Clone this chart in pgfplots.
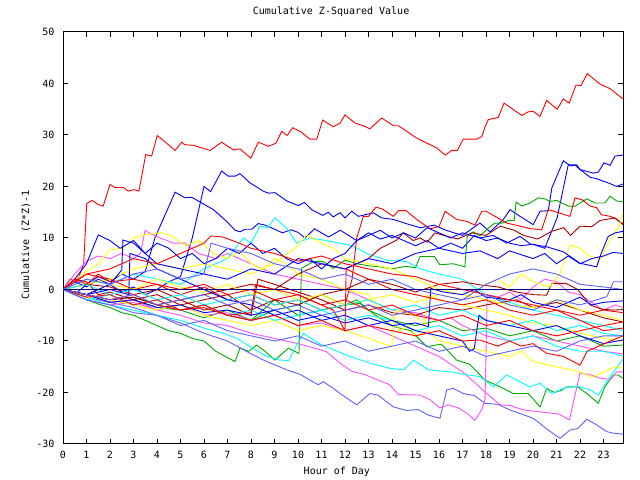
\documentclass[border=0pt]{standalone}
\usepackage{fontspec}
\setmainfont{DejaVu Sans Mono}
\usepackage{pgfplots}
\pgfplotsset{compat=1.18}
\definecolor{gpred}{RGB}{255,0,0}
\definecolor{gpblue}{RGB}{0,0,255}
\definecolor{gpgreen}{RGB}{0,170,0}
\definecolor{gpyellow}{RGB}{255,255,0}
\definecolor{gpcyan}{RGB}{0,255,255}
\definecolor{gpmag}{RGB}{255,80,255}
\definecolor{gpdred}{RGB}{170,0,0}
\definecolor{gpslate}{RGB}{96,96,255}
\definecolor{gpzero}{RGB}{0,0,128}
\begin{document}
\fontsize{10bp}{12bp}\selectfont
\begin{tikzpicture}[x=1bp,y=1bp]
\path[use as bounding box] (0,0) rectangle (640,480);
\begin{axis}[
  at={(63bp,36bp)}, anchor=south west,
  width=560bp, height=412bp, scale only axis,
  xmin=0, xmax=23.83, ymin=-30, ymax=50,
  xtick={0,1,...,23}, ytick={-30,-20,...,50},
  tick align=inside, major tick length=5bp,
  axis line style={line width=1bp},
  every tick/.style={black,line width=1bp},
  /pgf/number format/assume math mode=true,
  ticklabel style={font=\fontsize{10bp}{12bp}\selectfont},
  xticklabel style={yshift=-3.5bp},
  yticklabel style={xshift=-5bp},
  title={Cumulative Z-Squared Value},
  title style={at={(axis description cs:0.4786,1.029)},anchor=base,font=\fontsize{10bp}{12bp}\selectfont},
  xlabel={Hour of Day},
  xlabel style={at={(axis description cs:0.489,-0.075)},anchor=base,font=\fontsize{10bp}{12bp}\selectfont},
  ylabel={Cumulative (Z*Z)-1},
  ylabel style={at={(axis description cs:-0.0607,0.483)},anchor=base,rotate=0,font=\fontsize{10bp}{12bp}\selectfont},
  every axis plot/.append style={line width=0.9bp, mark=none},
  clip=true,
]
% top red
\addplot[gpred] coordinates {(0,0) (0.3,2) (0.6,1.5) (0.88,5) (1.01,16.7) (1.23,17.3) (1.50,16.5) (1.71,16.2) (2.00,20.4) (2.21,19.8) (2.57,19.8) (2.78,19.1) (3.02,19.4) (3.23,19.1) (3.52,26.2) (3.77,25.9) (4.01,29.9) (4.41,28.4) (4.77,27.0) (5.05,28.6) (5.19,28.1) (5.54,28.0) (5.83,27.6) (6.26,27.0) (6.75,28.6) (7.25,27.1) (7.53,27.3) (7.99,25.5) (8.31,28.6) (8.74,27.8) (9.06,28.4) (9.31,30.7) (9.54,29.9) (9.77,31.4) (10.09,30.7) (10.51,29.2) (10.80,29.2) (11.05,32.9) (11.50,31.6) (11.79,32.3) (12.00,33.9) (12.43,32.3) (12.78,31.8) (13.06,31.2) (13.56,33.3) (14.06,31.8) (14.27,31.8) (15.05,29.4) (15.90,27.5) (16.26,26.1) (16.54,27.0) (16.78,27.0) (17.03,29.2) (17.60,29.2) (17.82,29.7) (17.96,31.6) (18.10,33.0) (18.52,33.4) (18.77,36.2) (19.52,33.8) (19.80,34.5) (20.01,34.6) (20.30,33.6) (20.58,36.7) (21.03,35.0) (21.29,37.0) (21.54,36.2) (21.83,39.7) (22.04,39.6) (22.31,41.9) (22.85,39.9) (23.28,39.0) (23.83,37.0)};
% blue A
\addplot[gpblue] coordinates {(0,0) (0.5,1.5) (1,0.5) (1.5,2) (2,1) (2.5,-0.5) (3,0.5) (3.5,-1) (4,0) (4.5,1.5) (5,2.5) (5.5,10) (6.0,20.0) (6.28,19.0) (6.75,23.0) (7.03,22.0) (7.32,22.0) (7.53,22.5) (7.96,20.7) (8.52,19.1) (8.74,18.7) (9.02,18.8) (9.52,17.2) (10.01,16.3) (10.27,16.9) (10.58,15.5) (11.05,14.4) (11.29,15.0) (11.5,14.1) (11.79,14.9) (12.0,13.9) (12.29,15.2) (12.57,14.2) (13.2,14.9) (13.56,13.9) (14.06,13.6) (14.6,12.8) (15.2,12) (15.8,12.5) (16.3,11.5) (17,10.5) (17.74,12.9) (18.17,11.2) (18.74,13.6) (19.02,15.5) (19.45,14.2) (20.01,12.6) (20.3,15.2) (20.65,15.3) (20.8,19.7) (21.29,25.0) (21.6,24.0) (21.86,24.2) (22.0,23.3) (22.57,22.6) (22.78,22.8) (23.02,24.6) (23.28,24.1) (23.49,25.9) (23.83,26.1)};
% blue B
\addplot[gpblue] coordinates {(0,0) (0.5,-1) (1,1) (1.5,2.5) (2,1.5) (2.5,3) (3,2) (3.5,3.5) (3.91,10) (4.77,18.9) (5.19,17.8) (5.48,17.9) (5.83,17.0) (6.4,15.5) (6.97,13.2) (7.32,11.5) (7.53,11.2) (7.75,11.7) (8.03,11.7) (8.31,12.8) (8.6,12.5) (8.96,11.8) (9.34,11.0) (9.7,11.6) (10.0,11.1) (10.3,10) (10.7,11.8) (11.3,10.2) (11.8,11.5) (12.5,9.5) (13,11) (13.5,9.8) (14,10.5) (14.5,9.5) (15,8.5) (15.5,9.5) (16,8) (16.5,9) (17,8) (17.5,10.5) (18,9.5) (18.5,10) (19,9) (19.5,8.5) (20,8.8) (20.5,8) (21.03,14.0) (21.5,24.2) (21.79,24.2) (22.0,23.3) (22.43,21.8) (22.71,21.5) (23.2,20.7) (23.56,20.0) (23.83,20.5)};
% green G1
\addplot[gpgreen] coordinates {(0,0) (0.5,-1) (1,-2) (1.5,-2.8) (2,-3.5) (2.5,-4.5) (3,-5) (3.5,-6) (4,-7) (4.5,-8) (5,-8.5) (5.5,-9.5) (6,-10) (6.5,-12) (7.32,-14.0) (7.53,-11.4) (7.9,-12) (8.24,-10.8) (8.6,-12) (9.02,-13.7) (9.59,-11.4) (10.04,-12.4) (10.15,4.1) (10.65,5.4) (11.08,5.4) (11.5,4.1) (12.0,5.7) (12.5,5) (13,4.6) (13.49,4.4) (14,4) (14.6,4.5) (15.0,4.2) (15.19,6.4) (15.8,6.4) (16.04,4.8) (16.6,5) (17.1,4.4) (17.2,10.3) (17.46,11.2) (17.74,10.4) (18.1,11.9) (18.38,12.9) (18.7,12.9) (18.95,13.4) (19.2,13.4) (19.28,17.0) (19.52,16.2) (19.87,16.8) (20.23,17.8) (20.5,17.6) (20.72,17.1) (21.01,17.3) (21.5,16.2) (21.8,16.2) (22.0,16.8) (22.29,17.6) (22.64,16.8) (23.06,16.8) (23.28,18.1) (23.56,17.2) (23.83,17.0)};
% green G2
\addplot[gpgreen] coordinates {(0,0) (1,-1) (2,-2.5) (3,-2) (4,-3.5) (5,-4) (6,-5.5) (7,-4) (8,-6) (9,-2) (10,-5) (11,-4) (12,-3) (12.64,-2.7) (13.3,-5) (14.06,-7.2) (14.8,-8) (15.48,-11.1) (16.1,-10.6) (16.75,-13.7) (17.3,-14.5) (17.96,-17.6) (18.6,-18.9) (19.16,-20.2) (19.8,-20.2) (20.3,-22.8) (20.58,-19.2) (20.9,-20) (21.2,-19.6) (21.43,-18.9) (21.9,-18.9) (22.29,-20.2) (22.78,-22.1) (23.06,-18.9) (23.42,-16.6) (23.6,-16.6) (23.83,-17.2)};
% green G3
\addplot[gpgreen] coordinates {(0,0) (1,-1) (2,-2) (3,-1.5) (4,-3) (5,-4) (6,-3) (7,-5) (8,-6) (9,-4) (10,-3) (11,-1) (12,-3) (12.5,-2) (13,-4) (14,-6) (15,-7) (16,-6) (17,-8) (18,-7.5) (19,-9) (20,-8) (20.5,-9) (21,-10) (22,-9) (23,-11) (23.83,-10.8)};
% slate bottom
\addplot[gpslate] coordinates {(0,0) (1,-1.5) (2,-2.5) (3,-3.5) (4,-5) (5,-6.5) (6,-8.5) (7,-10) (8,-12.5) (8.67,-14.0) (9.52,-15.6) (10.1,-16.5) (10.51,-17.6) (10.86,-18.5) (11.08,-17.9) (11.5,-19.2) (11.79,-20.2) (12.5,-22.4) (13.06,-20.2) (13.4,-20.5) (14.06,-22.8) (14.63,-23.5) (15.1,-23.3) (15.55,-24.4) (16.04,-25.0) (16.33,-19.5) (16.61,-19.2) (17.03,-20.2) (17.5,-20.6) (17.96,-22.1) (18.5,-22.3) (19.02,-23.4) (20.01,-25.0) (20.65,-27.3) (21.15,-28.9) (21.57,-27.3) (21.9,-27.0) (22.29,-25.2) (22.71,-26.3) (23.14,-27.6) (23.42,-27.9) (23.83,-28.1)};
% magenta bottom M2
\addplot[gpmag] coordinates {(0,0) (1,-1) (2,-2.5) (3,-2) (4,-4) (5,-5) (6,-6.5) (7,-7) (8,-8.5) (9,-9.5) (10,-10.5) (10.72,-11.4) (11.22,-12.1) (11.79,-14.3) (12.29,-15.9) (12.78,-16.4) (13.2,-17.2) (13.91,-18.5) (14.27,-20.4) (15.19,-20.5) (15.62,-21.4) (16.04,-23.0) (16.4,-22.4) (16.82,-23.0) (17.18,-24.0) (17.53,-25.4) (17.82,-23.3) (17.96,-21.4) (18.05,-1) (18.5,-1.5) (19,-0.5) (19.5,-2) (20,0.5) (20.5,2) (21,1.5) (21.5,-0.5) (22,-1) (22.5,-2.5) (23,-4) (23.5,-3) (23.83,-3.5)};
% magenta M3
\addplot[gpmag] coordinates {(0,0) (1,-2) (2,-3) (3,-2.5) (4,-4) (5,-3) (6,-5) (7,-4.5) (8,-6) (9,-5) (10,-7) (11,-6.5) (12,-8) (13,-7) (14,-9) (15,-11) (16,-13) (17,-16) (17.5,-18) (18.03,-20.2) (18.6,-22.4) (19.0,-22.5) (19.59,-23.4) (20.58,-23.9) (21.1,-24.2) (21.55,-25.3) (22.0,-16.2) (22.4,-16.5) (22.85,-17.2) (23.3,-17.5) (23.56,-16.0) (23.83,-16)};
% magenta M1
\addplot[gpmag] coordinates {(0,0) (0.5,3) (1,5.5) (1.5,6.5) (2,6) (2.5,7) (3,6) (3.3,7) (3.49,11.5) (3.7,10.9) (3.99,10.3) (4.69,9.0) (5.2,9.0) (5.76,7.0) (6.5,6) (7,7) (7.5,6) (8,5) (9,3) (10,2) (11,1) (12,0) (13,-2) (14,-4) (15,-4.5) (16,-6) (16.5,-5.5) (17,-7) (18,-9) (19,-10) (20,-9) (21,-10) (22,-11) (23,-12) (23.83,-12.5)};
% cyan low
\addplot[gpcyan] coordinates {(0,0) (1,-1.5) (2,-3) (3,-4) (4,-5) (5,-6) (6,-7.5) (6.82,-8.5) (7.4,-9.5) (7.96,-11.1) (8.67,-13.0) (9.23,-13.7) (9.6,-13.8) (9.87,-11.4) (10.23,-8.5) (10.86,-10.4) (11.4,-11.5) (12.21,-13.0) (13.06,-14.3) (13.91,-15.3) (14.5,-15.6) (14.91,-13.7) (15.55,-15.6) (16.5,-16.0) (17.25,-16.6) (17.74,-16.9) (18.31,-18.9) (18.88,-16.6) (19.87,-18.9) (20.3,-18.2) (20.8,-20.2) (21.4,-19.0) (21.9,-18.8) (22.43,-19.5) (22.78,-20.5) (23.14,-17.9) (23.49,-15.6) (23.83,-13.5)};
% cyan upper
\addplot[gpcyan] coordinates {(0,0) (1,2) (2,1) (3,3) (4,2) (5,1) (6,4) (7,6) (7.67,10) (8,9) (8.38,12.3) (8.7,12) (9.02,13.9) (9.52,11.9) (9.94,9.0) (10.5,10) (11.08,9.6) (11.79,9.0) (12.3,8.5) (12.92,7.0) (13.77,5.7) (14.63,5.4) (15.2,4) (16,3) (17,2) (18,-1) (19,-2.5) (20,-4) (21,-5) (22,-6) (23,-7) (23.83,-8)};
% red mid
\addplot[gpred] coordinates {(0,0) (1,3) (2,2) (3,0) (4,1) (5,-1) (6,0.5) (7,-2) (8,-1) (9,-3) (10,-2) (11,-4) (12,-3) (12.3,2) (12.5,10) (12.78,14.2) (13.0,14.2) (13.32,16.0) (13.6,15.6) (14.06,14.2) (14.27,15.3) (14.6,15.3) (15.05,13.6) (15.62,11.8) (16.0,12.2) (16.26,15.2) (16.75,13.6) (17.2,13.2) (17.53,12.5) (17.82,15.2) (18.0,15.2) (18.38,14.2) (18.88,12.9) (19.45,12.3) (19.9,11.8) (20.37,11.6) (20.65,15.5) (21.1,14.9) (21.57,14.2) (21.79,17.8) (22.1,17.4) (22.43,16.2) (22.7,15.9) (22.92,14.5) (23.3,14.2) (23.56,13.6) (23.83,12.8)};
% dark red DR1
\addplot[gpdred] coordinates {(0,0) (1,1) (2,0.5) (3,-1) (4,0) (5,-2) (6,-1) (7,0) (8,1) (9,0) (10,3) (11,5) (12,4) (13,6) (13.5,8) (14.2,9.6) (14.48,11.0) (14.9,9.5) (15.19,10) (15.5,9.2) (15.83,11.0) (16.2,10.5) (16.8,9.8) (17.4,11) (18,10.5) (18.6,12.3) (19.2,11.5) (19.6,10.5) (20.2,9.8) (20.8,11.3) (21.3,12) (21.6,10.5) (22.0,12.3) (22.5,12.2) (22.85,13.4) (23.49,13.9) (23.83,12.6)};
% dark red DR2
\addplot[gpdred] coordinates {(0,0) (0.5,2) (1,1.5) (1.5,-1) (2,-0.5) (3,-2) (4,-1) (5,-3) (6,-2) (7,-1) (8,-4) (9,-2) (10,-3) (11,-1) (12,0) (13,2) (14,1) (15,-0.5) (16,1) (17,1.5) (17.74,0.9) (18.5,0.5) (19.3,-0.5) (20,-1) (20.58,-1.1) (20.8,1.2) (21.4,1.2) (21.9,0) (22.43,-3.0) (22.9,-3.8) (23.42,-4.0) (23.83,-3.9)};
% dark red DR3
\addplot[gpdred] coordinates {(0,0) (1,-1) (2,-2) (3,-1.5) (4,-3) (5,-2) (6,-4) (7,-3) (8,-5) (8.3,2) (9,1) (10,-0.5) (11,-2) (12,-4) (13,-3) (14,-4.5) (15,-5) (16,-3.5) (17,-4) (18,-3) (19.3,-2.0) (20,-3.5) (21,-2.5) (22,-4) (23,-5.5) (23.83,-6.3)};
% yellow Y1
\addplot[gpyellow] coordinates {(0,0) (0.5,2) (1,3.5) (1.5,5) (2,7.7) (2.57,8.0) (3,10) (3.42,10.6) (4.13,11.0) (4.6,10.5) (5.2,8.5) (5.8,9.5) (6.4,7) (7,6) (7.5,7.5) (8,5) (8.5,4) (9,6) (9.5,5) (10,3) (11,2) (12,0) (13,-1) (13.5,-4) (14,-5) (14.3,-8) (14.7,-7) (15,-9) (15.5,-8) (16,-10) (17,-11) (18,-12) (19,-13) (19.5,-12) (20,-14) (21,-15) (22,-16) (22.5,-17) (23,-16) (23.5,-15) (23.83,-15.3)};
% yellow Y2
\addplot[gpyellow] coordinates {(0,0) (1,-1) (2,1) (3,0) (4,2) (5,0.5) (6,-0.5) (7,1) (8,-1) (9,0) (10,-2) (11,-1) (12,-3) (13,-2) (14,-1) (15,-2.5) (16,-1) (17,-2) (18,1) (18.5,2) (19,0.5) (19.5,3) (20,1.5) (20.7,0.5) (21.15,3.1) (21.57,8.6) (22.0,8.0) (22.43,6.4) (22.9,6) (23.2,9.0) (23.49,11.2) (23.65,12) (23.83,15)};
% yellow Y3
\addplot[gpyellow] coordinates {(0,0) (1,-1.5) (2,-2) (3,-3) (4,-4) (5,-3) (6,-5) (7,-6) (8,-7) (9,-6) (10,-8) (11,-7) (12,-8) (13,-9.5) (13.99,-11.1) (14.13,-4.0) (15,-5) (15.4,-7.2) (15.5,-1.1) (16,-2) (17,-3) (18,-4) (19,-5) (20,-6.5) (21,-7) (22,-8.5) (23,-9.5) (23.83,-10)};
% yellow Y4
\addplot[gpyellow] coordinates {(0,0) (1,1) (2,2) (3,4) (4,5) (5,4) (6,5) (7,4) (8,3) (9,5) (9.94,8.3) (10.37,10.6) (11,9) (11.5,8) (12,6) (13,5) (14,4) (15,2) (16,0) (17,-1) (18,-2) (19,-3) (20,-3.5) (21,-2) (22,-4) (23,-5) (23.83,-6)};
% cyan C3
\addplot[gpcyan] coordinates {(0,0) (1,-2) (2,-1) (3,-3) (4,-2) (5,-4) (6,-3) (7,-5) (8,-4) (9,-6) (10,-5) (11,-4) (12,-6) (13,-5) (14,-6) (15,-8) (16,-7) (17,-9) (18,-8) (19,-10) (20,-9) (21,-11) (22,-12) (23,-12) (23.83,-12.9)};
% cyan C4
\addplot[gpcyan] coordinates {(0,0) (1,1) (2,-1) (3,0) (4,-2) (5,-1) (6,-3) (7,-2) (8,-1) (9,-3) (10,-2) (11,-4) (12,-3) (13,-2) (14,-4) (15,-3) (16,-5) (17,-4) (18,-6) (19,-7) (20,-6) (21,-8) (22,-7) (23,-8.5) (23.83,-9)};
% blue B3
\addplot[gpblue] coordinates {(0,0) (0.5,2) (1,5) (1.5,10.6) (2,9.5) (2.43,8.0) (3,9.5) (3.5,7) (4,9) (4.5,8) (5,6) (5.5,7) (6,5) (6.5,6) (7,8) (7.5,7) (8,9) (8.5,7) (9,8) (9.5,6) (10,5) (10.5,6) (11,4) (11.5,6) (12,7) (12.5,9.5) (13,10.5) (13.5,11.5) (14,10) (14.5,11) (15,10) (15.5,12) (16,11) (16.5,10) (17,11) (17.74,10.0) (18.3,10.5) (18.88,9.0) (19.45,10.3) (19.9,8.8) (20.58,8.3) (21.3,7.3) (22.0,5.1) (22.71,4.4) (22.9,7) (23.2,10.3) (23.5,11) (23.83,11.3)};
% blue B4
\addplot[gpblue] coordinates {(0,0) (1,-1) (2,1) (2.5,3.8) (2.55,9.6) (3,9) (3.5,7) (4,5) (5,4) (6,3) (7,2) (8,4) (9,3) (10,6) (11,5) (12,4) (13,6) (14,5) (15,7) (16,8) (17,7) (17.74,7.5) (18.5,6) (19,7.5) (20,6) (20.5,7) (21,5) (21.5,6.5) (22,5) (22.5,6) (23,6.5) (23.4,7.2) (23.83,7.0)};
% blue B5
\addplot[gpblue] coordinates {(0,0) (1,-1) (2,-2.5) (3,-2) (4,-3.5) (5,-3) (6,-4.5) (7,-4) (8,-5) (9,-4) (10,-6) (11,-5) (12,-6.5) (13,-5.5) (14,-7) (15,-6.5) (15.55,-7.2) (15.65,0.2) (16.2,-0.5) (17,-1) (17.5,0) (18,-1.5) (19,-2) (19.5,-1) (20,-2.5) (21,-3.5) (22,-1.5) (22.5,-3) (23,-2.5) (23.83,-2.2)};
% blue B6
\addplot[gpblue] coordinates {(0,0) (1,-1) (2,0) (2.8,-1) (2.85,7) (3.5,6) (4,4) (5,2) (6,0) (7,-2) (8,-3) (9,-5) (10,-4) (11,-6) (12,-5) (13,-7) (14,-6) (15,-8) (16,-9) (17,-10) (17.3,-12) (17.5,-11.5) (17.7,-5) (18,-6) (19,-7) (20,-8) (21,-7) (22,-9) (23,-10.5) (23.83,-9.8)};
% red R4
\addplot[gpred] coordinates {(0,0) (0.5,2) (1,1) (1.5,3) (2,1.5) (3,2) (4,1) (5,0) (6,1) (7,-1) (8,0) (9,-2) (10,-1) (11,-3) (12,-2) (13,-4) (14,-3) (15,-5) (16,-6) (17,-5) (18,-7) (19,-6) (20,-8) (21,-9) (22,-8) (23,-7) (23.83,-6.3)};
% red R5
\addplot[gpred] coordinates {(0,0) (1,-1) (2,-2) (3,-1) (4,-3) (5,-4) (6,-3) (7,-5) (8,-6) (9,-5) (10,-7) (11,-6) (12,-8) (13,-7) (14,-8) (15,-9) (16,-8) (17,-10) (17.74,-9.8) (18.5,-11) (19,-10) (19.5,-11) (20,-10.5) (20.58,-12.4) (21.3,-13) (22.0,-14.7) (22.3,-12) (22.8,-11) (23.3,-10) (23.83,-9)};
% red R6
\addplot[gpred] coordinates {(0,0) (1,-1.5) (2,-1) (3,-3) (4,-2) (5,-4) (6,-3.5) (7,-5) (8,-4.5) (8.2,1) (9,0) (10,-1) (11,-3) (11.5,-4) (12,-8) (12.05,4) (12.5,3) (13,2) (14,0) (15,-1) (16,-2) (17,-3) (18,-2) (19,-4) (20,-5) (21,-4) (22,-6) (23,-8) (23.83,-7.5)};
% red R7
\addplot[gpred] coordinates {(0,0) (1,3) (2,4) (3,6) (4,5) (5,7) (6,9) (6.3,10.4) (6.8,10.2) (7.5,9) (8,8) (9,7) (10,5.5) (11,6.5) (12,5) (13,4) (14,3) (15,2.5) (16,1) (17,0) (18,-1) (19,-2) (20,-3) (21,-4) (22,-5) (23,-4) (23.83,-4.5)};
% slate SB2
\addplot[gpslate] coordinates {(0,0) (1,-1) (2,-2) (3,-1) (4,-3) (5,-2) (6,-1) (7,-3) (8,-2) (9,-4) (10,-3) (11,-5) (12,-4) (13,-3) (14,-5) (15,-4) (16,-3) (17,-2) (18,-1) (19,-3) (20,-4) (21,-2) (22,-3) (23.14,-1.4) (23.42,1.5) (23.83,1.5)};
% slate SB3
\addplot[gpslate] coordinates {(0,0) (1,-2) (2,-3) (3,-4.5) (4,-5) (5,-7) (6,-6) (7,-8) (8,-9) (9,-10) (10,-9) (11,-11) (12,-10) (13,-12) (14,-11) (15,-10) (16,-12) (17,-11) (18,-13) (19,-12) (20,-11) (21,-12) (22,-10) (23,-9) (23.83,-9)};
% slate SB4
\addplot[gpslate] coordinates {(0,0) (1,2) (2,1) (3,3) (4,4) (5,2) (6,3) (6.3,9) (7,8) (8,7) (9,5) (10,4) (11,2) (12,3) (13,1) (14,2) (15,0) (16,-1) (17,-2) (18,1) (19,3) (20,4) (21,3) (22,1) (23,0.5) (23.83,0)};
% zero line
\addplot[gpzero, line width=1bp] coordinates {(0,0) (23.83,0)};
\end{axis}
\end{tikzpicture}
\end{document}
